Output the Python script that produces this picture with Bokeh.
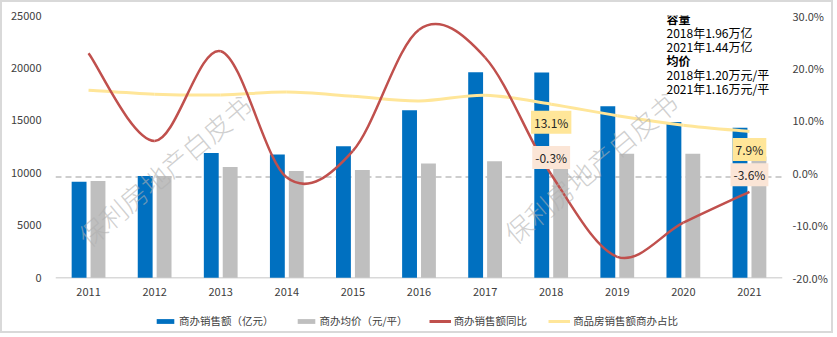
from bokeh.plotting import figure
from bokeh.models import (Range1d, LinearAxis, FixedTicker, PrintfTickFormatter, Span,
                          ColumnDataSource, Legend, LegendItem, BasicTickFormatter)
from bokeh.core.properties import value
from bokeh.transform import dodge
from bokeh.embed import file_html
from bokeh.resources import INLINE

# ---------------- data ----------------
YEARS = ["2011", "2012", "2013", "2014", "2015", "2016", "2017", "2018", "2019", "2020", "2021"]
SALES = [9150, 9700, 11900, 11750, 12550, 15970, 19580, 19560, 16350, 14860, 14300]      # 商办销售额（亿元）
PRICE = [9220, 9700, 10560, 10170, 10270, 10900, 11120, 12000, 11820, 11820, 11550]      # 商办均价（元/平）
YOY = [22.8, 6.1, 23.2, -0.9, 4.2, 27.3, 22.0, -0.3, -16.0, -9.5, -3.6]                   # 商办销售额同比 %
SHARE = [15.75, 15.0, 14.85, 15.4, 14.6, 13.7, 14.8, 13.1, 10.9, 9.1, 7.9]                # 商品房销售额商办占比 %
LABELED = [7, 10]            # years with data labels
REF_LINE_PCT = -0.8          # dashed reference line (right axis)
LEFT_MAX, PCT_MIN, PCT_MAX = 25000, -20, 30
LEFT_TICKS = [0, 5000, 10000, 15000, 20000, 25000]
RIGHT_TICKS = [-20, -10, 0, 10, 20, 30]
NOTE_LINES = ["容量", "2018年1.96万亿", "2021年1.44万亿", "均价", "2018年1.20万元/平", "2021年1.16万元/平"]
NOTE_STYLE = ["bold", "normal", "normal", "bold", "normal", "normal"]
WATERMARK = "保利房地产白皮书"
LEGEND_LABELS = ["商办销售额（亿元）", "商办均价（元/平）", "商办销售额同比", "商品房销售额商办占比"]

FONT = "Noto Sans CJK SC"
BLUE, GRAY, RED, YELLOW = "#0070C0", "#BFBFBF", "#C0504D", "#FFE699"
TXT = "#404040"

# geometry (canvas px; page has a 2px CSS border)
W, H = 833, 333
FL, FR, FT, FB = 53, 53, 13, 2
FW = W - FL - FR
ZERO_Y = 275.3                      # canvas y of the value-0 baseline
FRAME_BOTTOM = H - FB
PLOT_H = ZERO_Y - FT
LEFT_MIN = -LEFT_MAX * (FRAME_BOTTOM - ZERO_Y) / PLOT_H
PCT_LOW = PCT_MIN - (PCT_MAX - PCT_MIN) * (FRAME_BOTTOM - ZERO_Y) / PLOT_H


def page_x(px):
    return -0.5 + (px - 2 - FL) / FW * 11


def page_y(py):
    return LEFT_MAX * (ZERO_Y - (py - 2)) / PLOT_H


def smooth(xs, ys):
    n = len(xs)
    out = dict(x0=[], y0=[], x1=[], y1=[], cx0=[], cy0=[], cx1=[], cy1=[])
    for i in range(n - 1):
        a = i - 1 if i > 0 else i
        d = i + 2 if i + 2 < n else i + 1
        out["x0"].append(xs[i]); out["y0"].append(ys[i])
        out["x1"].append(xs[i + 1]); out["y1"].append(ys[i + 1])
        out["cx0"].append(xs[i] + (xs[i + 1] - xs[a]) / 6)
        out["cy0"].append(ys[i] + (ys[i + 1] - ys[a]) / 6)
        out["cx1"].append(xs[i + 1] - (xs[d] - xs[i]) / 6)
        out["cy1"].append(ys[i + 1] - (ys[d] - ys[i]) / 6)
    return out


xs = list(range(len(YEARS)))

p = figure(width=W, height=H, x_range=Range1d(-0.5, 10.5), y_range=Range1d(LEFT_MIN, LEFT_MAX),
           output_backend="svg", toolbar_location=None,
           min_border_left=FL, min_border_right=FR, min_border_top=FT, min_border_bottom=FB)
p.styles = {"border": "2px solid #D9D9D9"}
p.outline_line_color = None
p.xgrid.visible = False
p.ygrid.visible = False
p.xaxis.visible = False
p.extra_y_ranges = {"pct": Range1d(PCT_LOW, PCT_MAX)}

p.yaxis.ticker = FixedTicker(ticks=LEFT_TICKS)
p.yaxis.formatter = BasicTickFormatter(use_scientific=False)
p.yaxis.major_label_standoff = 14

raxis = LinearAxis(y_range_name="pct", ticker=FixedTicker(ticks=RIGHT_TICKS),
                   formatter=PrintfTickFormatter(format="%.1f%%"))
raxis.major_label_standoff = 10
p.add_layout(raxis, "right")

for ax in (p.yaxis[0], raxis):
    ax.axis_line_color = None
    ax.major_tick_line_color = None
    ax.minor_tick_line_color = None
    ax.major_tick_out = 0
    ax.major_tick_in = 0
    ax.minor_tick_out = 0
    ax.major_label_text_font = FONT
    ax.major_label_text_font_size = "11px"
    ax.major_label_text_color = TXT

# category axis: baseline + year labels
p.add_layout(Span(location=0, dimension="width", line_color="#D9D9D9", line_width=1.5, level="underlay"))
p.text(x=xs, y=[0] * len(xs), text=YEARS, y_offset=14, text_align="center", text_baseline="middle",
       text_font=value(FONT), text_font_size="11px", text_color=TXT)

# reference dashed line
p.add_layout(Span(location=REF_LINE_PCT, dimension="width", y_range_name="pct",
                  line_color="#BFBFBF", line_width=1.5, line_dash="6 4", level="underlay"))

# bars
src = ColumnDataSource(dict(x=xs, sales=SALES, price=PRICE))
r_sales = p.vbar(x=dodge("x", -0.143), top="sales", width=0.225, source=src, fill_color=BLUE, line_color=None)
r_price = p.vbar(x=dodge("x", 0.143), top="price", width=0.225, source=src, fill_color=GRAY, line_color=None)

# smoothed lines
sy = smooth(xs, SHARE)
p.bezier(source=ColumnDataSource(sy), x0="x0", y0="y0", x1="x1", y1="y1", cx0="cx0", cy0="cy0",
         cx1="cx1", cy1="cy1", line_color=YELLOW, line_width=3, y_range_name="pct")
ry = smooth(xs, YOY)
p.bezier(source=ColumnDataSource(ry), x0="x0", y0="y0", x1="x1", y1="y1", cx0="cx0", cy0="cy0",
         cx1="cx1", cy1="cy1", line_color=RED, line_width=2.5, y_range_name="pct")

# legend stand-ins for line swatches (no visible data)
nan = float("nan")
r_red = p.line(x=[nan], y=[nan], line_color=RED, line_width=3)
r_yel = p.line(x=[nan], y=[nan], line_color=YELLOW, line_width=3)

# data labels
for series, off, bg in ((SHARE, 18, YELLOW), (YOY, -17, "#FBE5D6")):
    p.text(x=[xs[i] for i in LABELED], y=[series[i] for i in LABELED],
           text=["%.1f%%" % series[i] for i in LABELED], y_range_name="pct", y_offset=off,
           text_align="center", text_baseline="middle", text_font=value(FONT),
           text_font_size="12px", text_color="#262626",
           background_fill_color=bg, padding=3)

# note text top right
p.text(x=[page_x(666)] * len(NOTE_LINES), y=[page_y(18 + 14 * i) for i in range(len(NOTE_LINES))],
       text=NOTE_LINES, text_font=value(FONT), text_font_size="12px", text_color="#000000",
       text_font_style=NOTE_STYLE, text_align="left", text_baseline="middle")

# watermark
p.text(x=[page_x(164), page_x(590)], y=[page_y(170), page_y(167)], text=[WATERMARK, WATERMARK],
       angle=0.70, text_font=value("'Noto Sans CJK SC Light', 'Noto Sans CJK SC'"),
       text_font_size="27px", text_color="#B0B0B0",
       text_alpha=0.6, text_align="center", text_baseline="middle")

legend = Legend(items=[LegendItem(label=LEGEND_LABELS[0], renderers=[r_sales]),
                       LegendItem(label=LEGEND_LABELS[1], renderers=[r_price]),
                       LegendItem(label=LEGEND_LABELS[2], renderers=[r_red]),
                       LegendItem(label=LEGEND_LABELS[3], renderers=[r_yel])],
                orientation="horizontal", location=(99, 5), padding=0, margin=0, spacing=21,
                glyph_width=22, glyph_height=6, label_height=14, label_standoff=3,
                label_text_font=FONT, label_text_font_size="10.5px", label_text_color=TXT,
                background_fill_alpha=0, border_line_color=None)
p.add_layout(legend, "center")

open("out.html", "w").write(file_html(p, INLINE))
